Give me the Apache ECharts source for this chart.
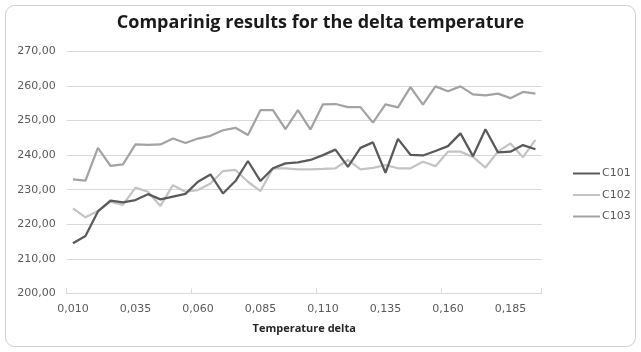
<!DOCTYPE html>
<html>
<head>
<meta charset="utf-8">
<script src="https://cdn.jsdelivr.net/npm/echarts@6/dist/echarts.min.js"></script>
<style>
html,body{margin:0;padding:0;background:#fff;}
#chart{width:641px;height:352px;}
</style>
</head>
<body>
<div id="chart"></div>
<script>
const categories = ["0,010","0,015","0,020","0,025","0,030","0,035","0,040","0,045","0,050","0,055",
  "0,060","0,065","0,070","0,075","0,080","0,085","0,090","0,095","0,100","0,105",
  "0,110","0,115","0,120","0,125","0,130","0,135","0,140","0,145","0,150","0,155",
  "0,160","0,165","0,170","0,175","0,180","0,185","0,190","0,195"];
const c101 = [214.5,216.6,223.7,226.8,226.3,227.0,228.7,227.2,228.0,228.8,
  232.3,234.4,228.9,232.5,238.3,232.5,236.2,237.6,237.9,238.6,
  240.0,241.6,236.6,242.1,243.7,234.9,244.7,240.1,239.9,241.2,
  242.6,246.3,239.7,247.5,240.8,241.0,242.9,241.7];
const c102 = [224.6,222.0,223.8,226.5,225.6,230.6,229.4,225.3,231.3,229.4,
  229.9,231.8,235.4,235.7,232.3,229.6,236.2,236.2,235.9,235.9,
  236.0,236.2,238.6,235.9,236.3,237.1,236.2,236.2,238.1,236.8,
  241.0,241.0,239.5,236.4,241.0,243.4,239.4,244.4];
const c103 = [233.0,232.6,242.1,236.9,237.3,243.1,243.0,243.1,244.8,243.5,
  244.8,245.6,247.2,247.9,245.8,253.0,253.0,247.5,253.0,247.4,
  254.7,254.8,253.9,253.9,249.4,254.7,253.8,259.7,254.6,259.9,
  258.5,259.9,257.6,257.3,257.8,256.5,258.3,257.8];
const seriesNames = ["C101","C102","C103"];
const seriesColors = ["#5a5a5a","#c4c4c4","#a3a3a3"];
const yMin = 200, yMax = 270, yStep = 10;

const chart = echarts.init(document.getElementById('chart'), null, {renderer:'canvas'});
const dataSets = [c101, c102, c103];
chart.setOption({
  animation:false,
  backgroundColor:'#ffffff',
  graphic:[{type:'rect', shape:{x:5.5,y:5.5,width:630,height:341,r:9}, style:{fill:'none',stroke:'#d0d0d0',lineWidth:1}, z:-1}],
  title:{text:'Comparinig results for the delta temperature', left:'center', top:9,
    textStyle:{fontFamily:'Open Sans', fontWeight:'bold', fontSize:18, color:'#1a1a1a'}},
  legend:{orient:'vertical', left:568, top:163, itemWidth:27, itemHeight:2, itemGap:10.5,
    icon:'rect',
    data:seriesNames,
    textStyle:{fontFamily:'DejaVu Sans', fontSize:11, color:'#595959', padding:[0,0,0,-3]}},
  grid:{left:66.7, right:99.3, top:51.5, bottom:58.7},
  xAxis:{type:'category', data:categories, boundaryGap:true,
    name:'Temperature delta', nameLocation:'middle', nameGap:30,
    nameTextStyle:{fontFamily:'Open Sans', fontWeight:'bold', fontSize:11, color:'#262626'},
    axisLine:{lineStyle:{color:'#d9d9d9'}},
    axisTick:{show:true, interval:9, inside:true, length:5, lineStyle:{color:'#d9d9d9'}},
    axisLabel:{interval:4, margin:10, fontFamily:'DejaVu Sans', fontSize:11, color:'#595959'}},
  yAxis:{type:'value', min:yMin, max:yMax, interval:yStep,
    axisLine:{show:false}, axisTick:{show:false},
    splitLine:{lineStyle:{color:'#d9d9d9'}},
    axisLabel:{margin:11, fontFamily:'DejaVu Sans', fontSize:11, color:'#595959',
      formatter:v=>v.toFixed(2).replace('.',',')}},
  series:seriesNames.map((n,i)=>({name:n, type:'line', data:dataSets[i], symbol:'none',
    lineStyle:{color:seriesColors[i], width:2.25}, itemStyle:{color:seriesColors[i]}, z:[3,2,1][i]}))
});
</script>
</body>
</html>
